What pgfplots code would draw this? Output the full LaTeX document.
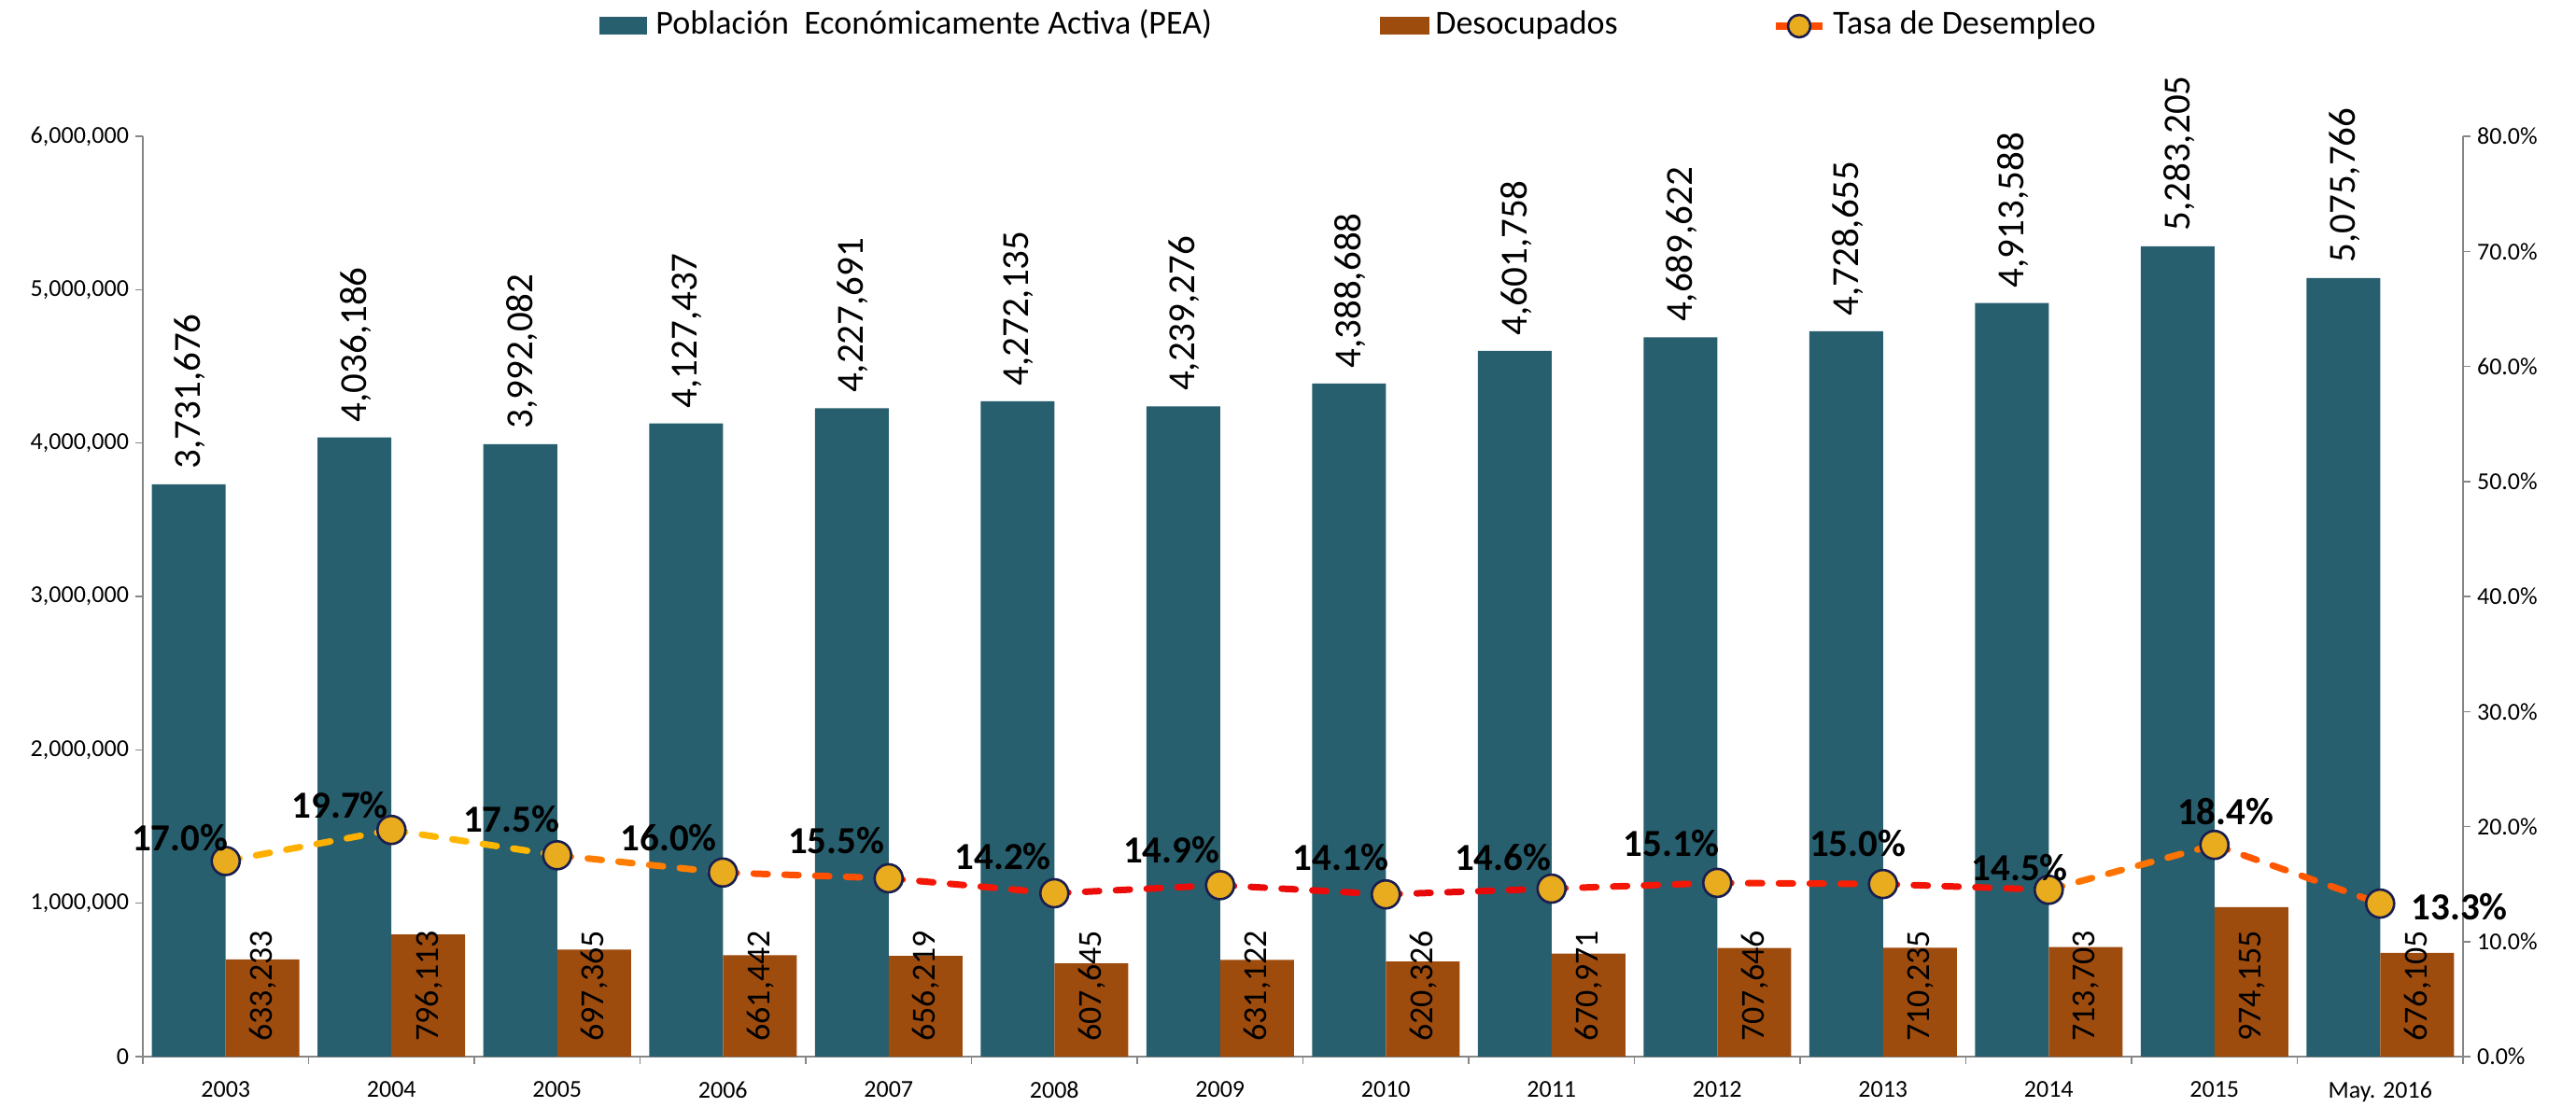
\documentclass[border=0pt]{standalone}
\usepackage{fontspec}
\setmainfont{Carlito}
\usepackage{pgfplots}
\pgfplotsset{compat=1.18}
\usepackage{pgfplotstable}
\usepackage{siunitx}
\sisetup{group-separator={,}, group-minimum-digits=4, mode=text}

\definecolor{pea}{RGB}{40,95,110}
\definecolor{des}{RGB}{158,76,14}
\definecolor{gold}{RGB}{232,172,30}
\definecolor{navy}{RGB}{25,30,80}
\definecolor{axgray}{RGB}{134,134,134}

% x pea des tasa, dx/dy = label offset (pt)
\pgfplotstableread{
x  pea      des     tasa  dx     dy
0  3731676  633233  17.0  -24.5  12.5
1  4036186  796113  19.7  -27.5  13.5
2  3992082  697365  17.5  -24.5  19.5
3  4127437  661442  16.0  -29    18.5
4  4227691  656219  15.5  -28    20
5  4272135  607645  14.2  -27.5  19.5
6  4239276  631122  14.9  -26    19
7  4388688  620326  14.1  -24    20
8  4601758  670971  14.6  -26    17
9  4689622  707646  15.1  -24.5  21
10 4728655  710235  15.0  -13.5  22
11 4913588  713703  14.5  -15.5  12
12 5283205  974155  18.4  6      18
13 5075766  676105  13.3  42.5   -1.5
}\datatable

\pgfplotsset{
  base/.style={
    scale only axis, width=1242.5pt, height=493pt,
    at={(0,0)}, anchor=south west,
    xmin=-0.5, xmax=13.5, clip=false,
    /pgf/number format/assume math mode=true,
    axis line style={axgray, line width=0.75pt},
    tick style={axgray, line width=0.75pt},
    tick align=outside, major tick length=4pt, minor tick length=4pt,
    ticklabel style={font=\fontsize{13}{14}\selectfont},
  },
}

\begin{document}
\begin{tikzpicture}
\useasboundingbox (-76.5pt,-26.5pt) rectangle (1303pt,566pt);

\begin{axis}[base,
  ymin=0, ymax=6000000,
  axis x line*=bottom, axis y line*=left,
  xtick={0,...,13},
  xticklabels={2003,2004,2005,2006,2007,2008,2009,2010,2011,2012,2013,2014,2015,May. 2016},
  major x tick style={draw=none},
  minor xtick={-0.5,0.5,...,13.5},
  xticklabel style={yshift=-6pt},
  ytick={0,1000000,2000000,3000000,4000000,5000000,6000000},
  scaled y ticks=false,
  yticklabel style={/pgf/number format/.cd, fixed, 1000 sep={,}},
]
\addplot[ybar, bar width=39.5pt, bar shift=-19.75pt, fill=pea, draw=none,
  point meta=explicit symbolic,
  nodes near coords={\expandafter\num\expandafter{\pgfplotspointmeta}},
  every node near coord/.append style={xshift=-19pt, rotate=90, anchor=west,
    inner xsep=8pt, inner ysep=0pt, text=black,
    font=\fontsize{20.5}{22}\selectfont}]
  table[x=x, y=pea, meta=pea]{\datatable};
\addplot[ybar, bar width=39.5pt, bar shift=19.75pt, fill=des, draw=none,
  point meta=explicit symbolic,
  visualization depends on={\thisrow{des} \as \desval},
  nodes near coords={\expandafter\num\expandafter{\pgfplotspointmeta}},
  every node near coord/.append style={shift={(axis direction cs:0,-\desval)},
    xshift=20pt, rotate=90, anchor=west, inner xsep=8pt, inner ysep=0pt,
    text=black, font=\fontsize{18}{20}\selectfont}]
  table[x=x, y=des, meta=des]{\datatable};
\end{axis}

\begin{axis}[base,
  ymin=0, ymax=80,
  axis x line=none, axis y line*=right,
  ytick={0,10,...,80},
  yticklabel={\pgfmathprintnumber[fixed,fixed zerofill,precision=1]{\tick}\%},
  colormap={unemp}{rgb255(0cm)=(200,0,0) rgb255(1.5cm)=(235,10,10)
    rgb255(2.3cm)=(255,40,0) rgb255(3cm)=(255,100,0)
    rgb255(4.5cm)=(255,150,0) rgb255(6.7cm)=(255,215,0)},
  point meta min=13, point meta max=19.7,
]
\addplot[mesh, shader=flat mean, point meta=\thisrow{tasa},
  line width=3.5pt, dash pattern=on 7.5pt off 9pt, line cap=round]
  table[x=x, y=tasa]{\datatable};
\addplot[only marks, mark=*, mark size=7.5pt,
  mark options={fill=gold, draw=navy, line width=1.3pt},
  point meta=y,
  visualization depends on={\thisrow{dx} \as \ldx},
  visualization depends on={\thisrow{dy} \as \ldy},
  nodes near coords={\pgfmathprintnumber[fixed,fixed zerofill,precision=1]{\pgfplotspointmeta}\%},
  every node near coord/.append style={anchor=center, xshift=\ldx pt,
    yshift=\ldy pt, inner sep=0pt, text=black,
    font=\bfseries\fontsize{20.5}{22}\selectfont}]
  table[x=x, y=tasa]{\datatable};
\end{axis}

% legend
\fill[pea] (244.5pt,547.5pt) rectangle (270pt,557pt);
\node[anchor=base west, inner sep=0pt, font=\fontsize{18}{20}\selectfont]
  at (274.5pt,547.5pt) {Población\ \ Económicamente Activa (PEA)};
\fill[des] (662.5pt,547.5pt) rectangle (689pt,557pt);
\node[anchor=base west, inner sep=0pt, font=\fontsize{18}{20}\selectfont]
  at (692pt,547.5pt) {Desocupados};
\draw[orange!60!red, line width=4pt] (874.5pt,552pt) -- (899.5pt,552pt);
\filldraw[fill=gold, draw=navy, line width=1.3pt] (887pt,552pt) circle (6pt);
\node[anchor=base west, inner sep=0pt, font=\fontsize{18}{20}\selectfont]
  at (905pt,547.5pt) {Tasa de Desempleo};
\end{tikzpicture}
\end{document}
